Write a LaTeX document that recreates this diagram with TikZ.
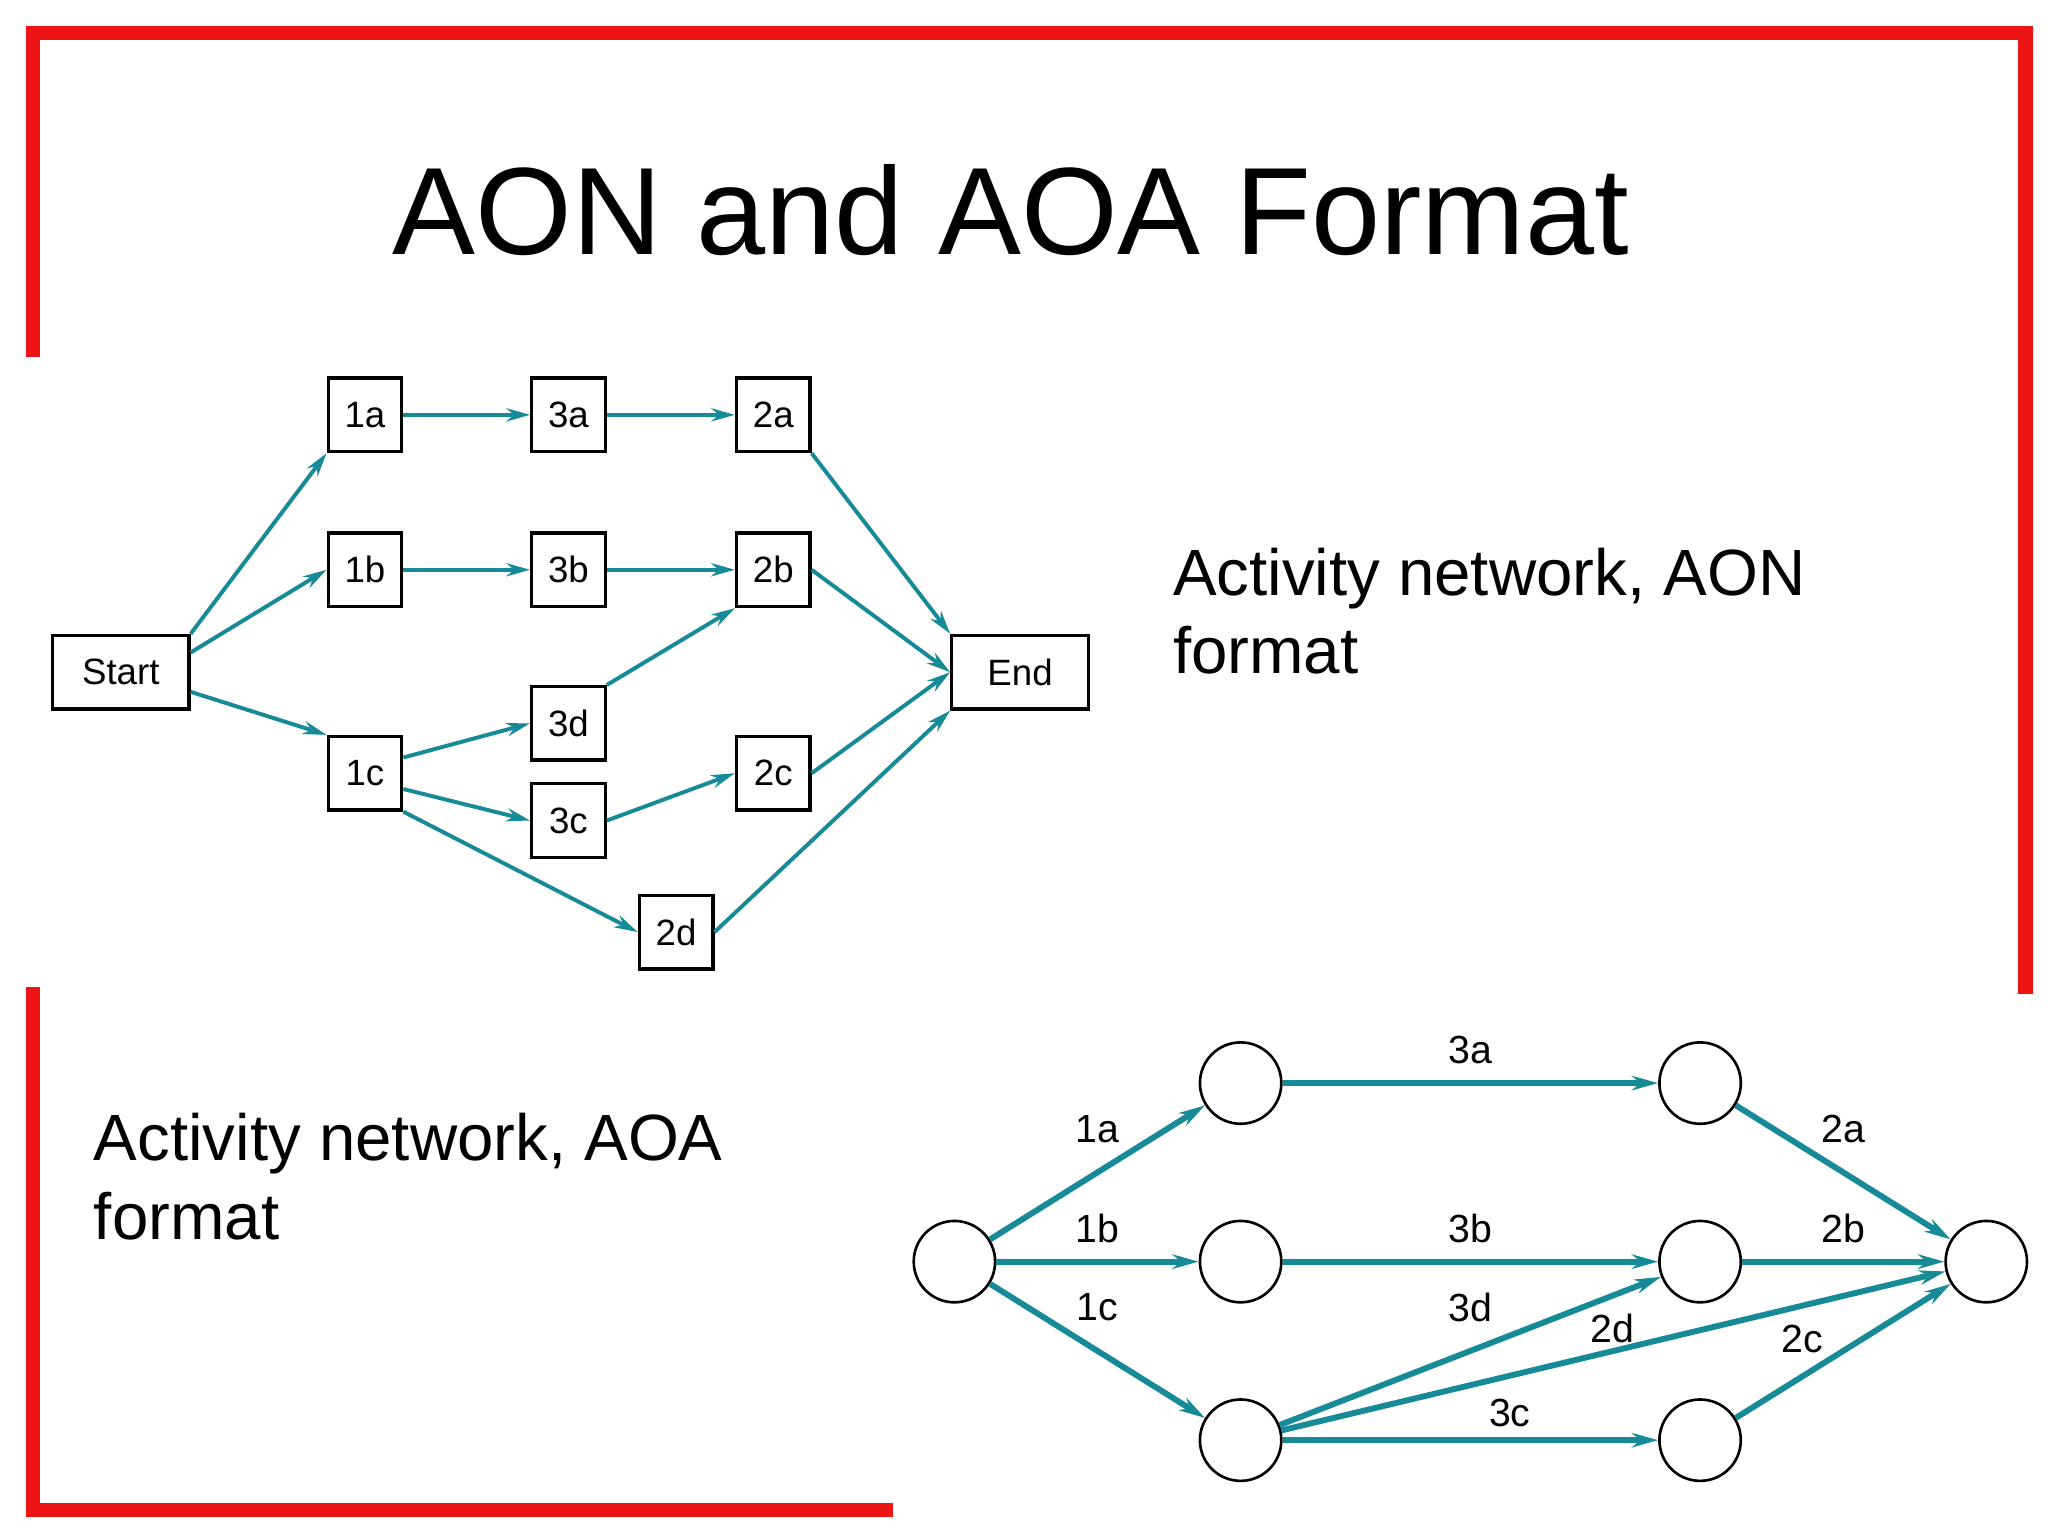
\documentclass[tikz,border=0pt]{standalone}
\usepackage{fontspec}
\setmainfont{Liberation Sans}
\usetikzlibrary{arrows.meta,positioning}
\definecolor{teal}{RGB}{22,138,150}
\definecolor{frame}{RGB}{236,20,20}
\tikzset{
  box/.style={draw,line width=2.5bp,minimum width=56bp,minimum height=56bp,inner sep=0pt,font=\fontsize{28}{30}\selectfont},
  wbox/.style={box,minimum width=104bp},
  ev/.style={draw,circle,line width=2bp,minimum size=62bp,inner sep=0pt},
  act/.style={teal,line width=3bp,-{Stealth[length=18bp,width=10bp]}},
  arc/.style={teal,line width=4.5bp,-{Stealth[length=20bp,width=11bp]}},
  lbl/.style={font=\fontsize{30}{32}\selectfont},
}
\begin{document}
\begin{tikzpicture}[x=1bp,y=-1bp]
\useasboundingbox (0,0) rectangle (1560,1170);
%
\draw[frame,line width=11bp] (25,272) -- (25,25) -- (1543,25) -- (1543,757);
\draw[frame,line width=11bp] (25,752) -- (25,1150) -- (680,1150);
\node[font=\fontsize{95}{105}\selectfont] (title) at (770,160) {AON and AOA Format};
%
% AON
\node[wbox] (start) at (92,512) {Start};
\node[wbox] (end) at (777,512) {End};
\node[box] (1a) at (278,316) {1a};
\node[box] (3a) at (433,316) {3a};
\node[box] (2a) at (589,316) {2a};
\node[box] (1b) at (278,434) {1b};
\node[box] (3b) at (433,434) {3b};
\node[box] (2b) at (589,434) {2b};
\node[box] (3d) at (433,551) {3d};
\node[box] (1c) at (278,589) {1c};
\node[box] (2c) at (589,589) {2c};
\node[box] (3c) at (433,625) {3c};
\node[box] (2d) at (515,710) {2d};
\draw[act] (start.north east) -- (1a.south west);
\draw[act] (start.east) ++(0,-15) -- (1b.west);
\draw[act] (start.east) ++(0,15) -- (1c.north west);
\draw[act] (1a) -- (3a);
\draw[act] (3a) -- (2a);
\draw[act] (1b) -- (3b);
\draw[act] (3b) -- (2b);
\draw[act] (1c.east) ++(0,-12) -- (3d.west);
\draw[act] (1c.east) ++(0,12) -- (3c.west);
\draw[act] (1c.south east) -- (2d.west);
\draw[act] (3d.north east) -- (2b.south west);
\draw[act] (3c.east) -- (2c.west);
\draw[act] (2a.south east) -- (end.north west);
\draw[act] (2b.east) -- (end.west);
\draw[act] (2c.east) -- (end.west);
\draw[act] (2d.east) -- (end.south west);
\node[anchor=base west,align=left,font=\fontsize{50}{60}\selectfont] (aon) at (890,513) {Activity network, AON\\format};
%
% AOA
\node[ev] (s) at (727,961) {};
\node[ev] (e1) at (945,825) {};
\node[ev] (e2) at (945,961) {};
\node[ev] (e3) at (945,1097) {};
\node[ev] (e4) at (1295,825) {};
\node[ev] (e5) at (1295,961) {};
\node[ev] (e6) at (1295,1097) {};
\node[ev] (t) at (1513,961) {};
\draw[arc] (s) -- (e1);
\draw[arc] (s) -- (e2);
\draw[arc] (s) -- (e3);
\draw[arc] (e1) -- (e4);
\draw[arc] (e2) -- (e5);
\draw[arc] (e3) -- (e5);
\draw[arc] (e3) -- (t);
\draw[arc] (e3) -- (e6);
\draw[arc] (e4) -- (t);
\draw[arc] (e5) -- (t);
\draw[arc] (e6) -- (t);
\node[lbl] (l3a) at (1120,800) {3a};
\node[lbl] (l1a) at (836,860) {1a};
\node[lbl] (l2a) at (1404,860) {2a};
\node[lbl] (l1b) at (836,936) {1b};
\node[lbl] (l3b) at (1120,936) {3b};
\node[lbl] (l2b) at (1404,936) {2b};
\node[lbl] (l1c) at (836,996) {1c};
\node[lbl] (l3d) at (1120,996) {3d};
\node[lbl] (l2d) at (1228,1012) {2d};
\node[lbl] (l2c) at (1373,1020) {2c};
\node[lbl] (l3c) at (1150,1076) {3c};
\node[anchor=base west,align=left,font=\fontsize{50}{60}\selectfont] (aoa) at (68,944) {Activity network, AOA\\format};
%
\end{tikzpicture}
\end{document}
